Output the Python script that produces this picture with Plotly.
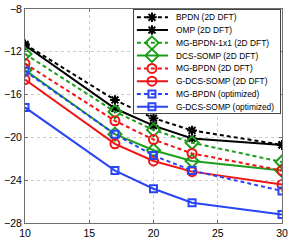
import plotly.graph_objects as go

snr = [10, 17, 20, 23, 30]
series_names = [
    "BPDN (2D DFT)",
    "OMP (2D DFT)",
    "MG-BPDN-1x1 (2D DFT)",
    "DCS-SOMP (2D DFT)",
    "MG-BPDN (2D DFT)",
    "G-DCS-SOMP (2D DFT)",
    "MG-BPDN (optimized)",
    "G-DCS-SOMP (optimized)",
]
bpdn = [-11.3, -16.5, -18.2, -19.35, -20.7]
omp = [-11.4, -17.3, -18.9, -20.1, -20.7]
mg_bpdn_1x1 = [-12.2, -17.6, -19.3, -20.5, -22.3]
dcs_somp = [-13.7, -19.7, -21.2, -22.2, -23.1]
mg_bpdn = [-13.1, -18.45, -20.2, -21.5, -23.1]
g_dcs_somp = [-14.6, -20.6, -22.2, -23.2, -24.4]
mg_bpdn_opt = [-13.8, -19.7, -21.7, -23.1, -25.0]
g_dcs_somp_opt = [-17.2, -23.1, -24.8, -26.1, -27.2]

x_ticks = [10, 15, 20, 25, 30]
y_ticks = [-28, -24, -20, -16, -12, -8]

values = [bpdn, omp, mg_bpdn_1x1, dcs_somp, mg_bpdn, g_dcs_somp, mg_bpdn_opt, g_dcs_somp_opt]

BLACK = "#000000"
GREEN = "#1c9e1c"
RED = "#f01414"
BLUE = "#2a45f5"
DASH = "4px,3px"
styles = [
    (BLACK, DASH, "asterisk-open", 8),
    (BLACK, "solid", "asterisk-open", 8),
    (GREEN, DASH, "diamond-open", 10),
    (GREEN, "solid", "diamond-open", 10),
    (RED, DASH, "circle-open", 9),
    (RED, "solid", "circle-open", 9),
    (BLUE, DASH, "square-open", 7),
    (BLUE, "solid", "square-open", 7),
]

FONT = "Liberation Sans, Arial, sans-serif"

fig = go.Figure()
for name, vals, (col, dash, sym, msz) in zip(series_names, values, styles):
    fig.add_trace(go.Scatter(
        x=snr, y=vals, name=name, mode="lines+markers",
        line=dict(color=col, width=2, dash=dash),
        marker=dict(symbol=sym, size=msz, color=col, line=dict(color=col, width=2)),
        showlegend=False, xaxis="x", yaxis="y",
    ))

# legend box built as an inset subplot
for i, (name, (col, dash, sym, msz)) in enumerate(zip(series_names, styles)):
    fig.add_trace(go.Scatter(
        x=[0.02, 0.233], y=[i, i], mode="lines",
        line=dict(color=col, width=2, dash=dash),
        showlegend=False, hoverinfo="skip", xaxis="x2", yaxis="y2",
    ))
    fig.add_trace(go.Scatter(
        x=[0.123], y=[i], mode="markers",
        marker=dict(symbol=sym, size=msz, color=col, line=dict(color=col, width=2)),
        showlegend=False, hoverinfo="skip", xaxis="x2", yaxis="y2",
    ))
    fig.add_annotation(
        x=0.275, y=i, xref="x2", yref="y2", text=name, showarrow=False,
        xanchor="left", yanchor="middle",
        font=dict(family=FONT, size=8.4, color="black"),
    )

L, R, T, B = 25, 12, 9, 17
W, H = 294, 240
pw, ph = W - L - R, H - T - B
lx0, lx1, ly0, ly1 = 134, 280, 10, 113
fig.update_layout(
    template="none",
    width=W, height=H,
    margin=dict(l=L, r=R, t=T, b=B, pad=0, autoexpand=False),
    paper_bgcolor="white", plot_bgcolor="white",
    font=dict(family=FONT, size=10, color="black"),
    xaxis=dict(
        range=[10, 30], tickvals=x_ticks, ticktext=[str(v) for v in x_ticks],
        showline=True, mirror="ticks", linecolor="#707070", linewidth=1,
        ticks="inside", ticklen=3, tickcolor="#707070",
        showgrid=True, gridcolor="#cccccc", griddash="dot", gridwidth=1,
        zeroline=False, tickfont=dict(size=10.5), domain=[0, 1], automargin=False,
    ),
    yaxis=dict(
        range=[-28, -8], tickvals=y_ticks,
        ticktext=["\u221228", "\u221224", "\u221220", "\u221216", "\u221212", "\u22128"],
        showline=True, mirror="ticks", linecolor="#707070", linewidth=1,
        ticks="inside", ticklen=3, tickcolor="#707070",
        showgrid=True, gridcolor="#cccccc", griddash="dot", gridwidth=1,
        zeroline=False, tickfont=dict(size=10.5), domain=[0, 1], automargin=False,
    ),
    xaxis2=dict(
        domain=[(lx0 - L) / pw, (lx1 - L) / pw], range=[0, 1], anchor="y2",
        showline=True, mirror=True, linecolor="#444444", linewidth=1,
        showgrid=False, zeroline=False, showticklabels=False, ticks="",
        fixedrange=True, automargin=False,
    ),
    yaxis2=dict(
        domain=[(ph - (ly1 - T)) / ph, (ph - (ly0 - T)) / ph], range=[7.49, -0.57], anchor="x2",
        showline=True, mirror=True, linecolor="#444444", linewidth=1,
        showgrid=False, zeroline=False, showticklabels=False, ticks="",
        fixedrange=True, automargin=False,
    ),
    showlegend=False,
)

fig.write_html(
    "out.html",
    config={"displayModeBar": False},
    post_script="document.body.style.margin='0';document.body.style.overflow='hidden';",
)
